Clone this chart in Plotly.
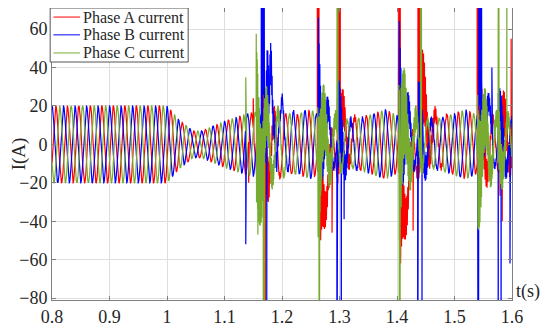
import numpy as np
import plotly.graph_objects as go

# ---------------- data ----------------
t_start, t_end, dt = 0.8, 1.6, 0.0001
freq_hz = 50.0
phase_names = ["Phase A current", "Phase B current", "Phase C current"]
phase_colors = ["#ff0000", "#0000ff", "#77ac30"]
phase_shift_deg = [-120.0, 0.0, 120.0]

# amplitude envelope of the fundamental (A)
env_t = [0.80, 1.00, 1.02, 1.045, 1.06, 1.10, 1.14, 1.16, 1.19, 1.22, 1.25, 1.27,
         1.32, 1.38, 1.40, 1.46, 1.52, 1.54, 1.60]
env_amp = [20, 20, 13, 7, 7, 12, 16, 17, 17, 15, 18, 14, 12, 18, 15, 12, 18, 15, 13]

# damped transients: start time, phase index, amplitude, decay, frequency, offset
burst_t0 = [1.155, 1.165, 1.166, 1.168,
            1.262, 1.263, 1.266, 1.296, 1.297,
            1.403, 1.404, 1.405, 1.444, 1.437,
            1.540, 1.542, 1.542, 1.575, 1.578, 1.576]
burst_ph = [2, 1, 1, 0,
            2, 1, 0, 0, 1,
            2, 1, 0, 0, 1,
            2, 1, 0, 2, 0, 1]
burst_amp = [45, 25, 18, 25,
             35, 35, 22, 22, 25,
             42, 38, 25, 22, 25,
             35, 28, 30, 25, 25, 20]
burst_tau = [0.015, 0.016, 0.016, 0.010,
             0.016, 0.010, 0.011, 0.012, 0.010,
             0.016, 0.010, 0.012, 0.013, 0.010,
             0.016, 0.010, 0.010, 0.012, 0.012, 0.010]
burst_f = [1100, 800, 150, 700,
           1100, 800, 600, 600, 800,
           1100, 800, 600, 600, 800,
           1100, 800, 600, 1100, 600, 800]
burst_off = [0, 0, 50, -5,
             0, 25, -50, 18, 0,
             5, 25, -60, 22, 0,
             0, 45, -5, 0, 5, 0]

# narrow spikes: time, phase index, peak value, duration
spike_t = [1.137, 1.137, 1.158, 1.142, 1.150,
           1.164, 1.1695, 1.1675, 1.1735,
           1.2615, 1.2635, 1.2870, 1.2960, 1.2985, 1.2955, 1.3030, 1.3080,
           1.4025, 1.4040, 1.4280, 1.4365, 1.4410, 1.4360, 1.4435,
           1.5395, 1.5400, 1.5430, 1.5650, 1.5760, 1.5910, 1.5760, 1.5810,
           1.5830, 1.5965, 1.5985]
spike_ph = [1, 2, 2, 0, 0,
            1, 0, 2, 1,
            0, 2, 0, 2, 0, 1, 1, 1,
            0, 2, 0, 0, 2, 1, 1,
            0, 1, 1, 1, 2, 2, 1, 1,
            0, 1, 0]
spike_val = [-52, 35, -47, -20, 24,
             150, -150, -150, -90,
             150, -150, -46, 150, 150, -150, -150, -39,
             150, -150, -45, 150, 150, -150, -150,
             150, -150, 150, 40, 150, 150, -150, -150,
             -40, -62, 55]
spike_w = [0.0003, 0.0003, 0.0003, 0.0003, 0.0003,
           0.005, 0.0025, 0.0020, 0.0010,
           0.0030, 0.0015, 0.0003, 0.0015, 0.0030, 0.0008, 0.0008, 0.0003,
           0.0030, 0.0015, 0.0003, 0.0030, 0.0015, 0.0008, 0.0008,
           0.0020, 0.0020, 0.0040, 0.0003, 0.0012, 0.0008, 0.0008, 0.0008,
           0.0003, 0.0003, 0.0003]

x_tick_vals = [0.8, 0.9, 1.0, 1.1, 1.2, 1.3, 1.4, 1.5, 1.6]
x_tick_text = ["0.8", "0.9", "1", "1.1", "1.2", "1.3", "1.4", "1.5", "1.6"]
y_tick_vals = [-80, -60, -40, -20, 0, 20, 40, 60]

# ---------------- build signals ----------------
n = int(round((t_end - t_start) / dt)) + 1
t = np.linspace(t_start, t_end, n)
env = np.interp(t, env_t, env_amp)
signals = []
for k in range(3):
    s = env * np.cos(2 * np.pi * freq_hz * (t - t_start) + np.deg2rad(phase_shift_deg[k]))
    signals.append(s)

for t0, ph, a, tau, f, off in zip(burst_t0, burst_ph, burst_amp, burst_tau, burst_f, burst_off):
    m = t >= t0
    x = t[m] - t0
    signals[ph][m] += a * np.exp(-x / tau) * np.sin(2 * np.pi * f * x) + off * np.exp(-x / tau)

for ts, ph, v, w in zip(spike_t, spike_ph, spike_val, spike_w):
    i0 = int(round((ts - t_start) / dt))
    i1 = max(i0 + 1, int(round((ts + w - t_start) / dt)))
    signals[ph][i0:i1:2] = v

fig = go.Figure()
for k in range(3):
    fig.add_trace(go.Scatter(x=t, y=signals[k], mode="lines", name=phase_names[k],
                             line=dict(color=phase_colors[k], width=1.2),
                             showlegend=False))

serif = "Liberation Serif"
txt = "#262626"
# page body has an 8 px default margin, so the figure is 8 px smaller
fig.update_layout(
    width=542, height=328,
    margin=dict(l=44, r=38, t=0, b=36),
    paper_bgcolor="white", plot_bgcolor="white",
    font=dict(family=serif, size=16, color=txt),
    showlegend=False,
)
fig.update_xaxes(range=[0.8, 1.6], tickvals=x_tick_vals, ticktext=x_tick_text,
                 showgrid=True, gridcolor="#dedede", gridwidth=1,
                 showline=True, linecolor="#808080", linewidth=1, mirror="ticks",
                 ticks="inside", ticklen=4, tickcolor="#808080",
                 zeroline=False, automargin=False,
                 tickfont=dict(family=serif, size=18, color=txt))
fig.update_yaxes(range=[-81, 71], tickvals=y_tick_vals,
                 showgrid=True, gridcolor="#dedede", gridwidth=1,
                 showline=True, linecolor="#808080", linewidth=1, mirror="ticks",
                 ticks="inside", ticklen=4, tickcolor="#808080",
                 zeroline=False, automargin=False,
                 tickfont=dict(family=serif, size=18, color=txt),
                 title=dict(text="I(A)", font=dict(family=serif, size=19, color=txt), standoff=0))

# legend box drawn as shapes + text (paper coordinates)
fig.add_shape(type="rect", xref="paper", yref="paper", x0=-0.004, x1=0.296, y0=0.815, y1=1.0,
              fillcolor="white", line=dict(color="#555555", width=1), layer="above")
row_y = [0.969, 0.908, 0.846]
for k in range(3):
    fig.add_shape(type="line", xref="paper", yref="paper", x0=0.003, x1=0.061,
                  y0=row_y[k], y1=row_y[k], line=dict(color=phase_colors[k], width=1),
                  layer="above")
    fig.add_annotation(text=phase_names[k], xref="paper", yref="paper", x=0.063, y=row_y[k],
                       xanchor="left", yanchor="middle", showarrow=False,
                       font=dict(family=serif, size=16, color=txt))

fig.add_annotation(text="t(s)", xref="paper", yref="paper", x=1.005, y=0.03,
                   xanchor="left", yanchor="middle", showarrow=False,
                   font=dict(family=serif, size=18, color=txt))

fig.write_html("out.html")
